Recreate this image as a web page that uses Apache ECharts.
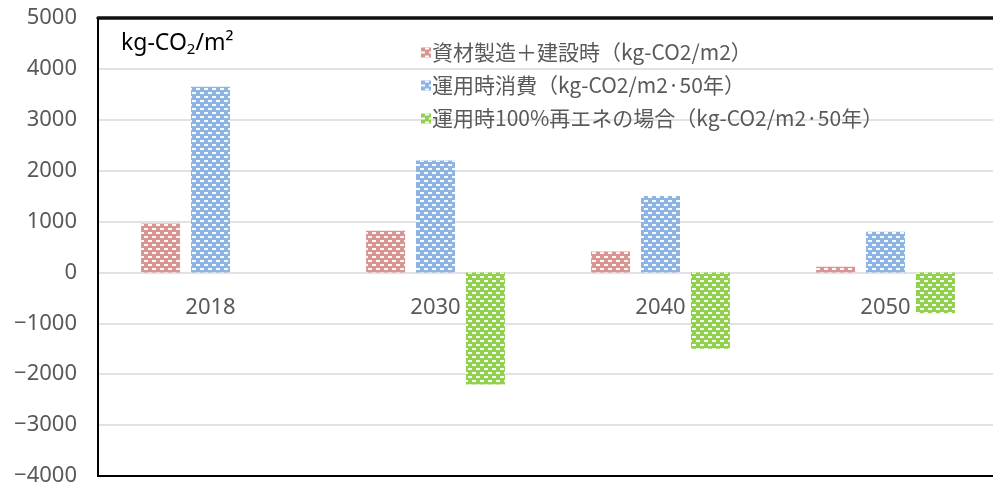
<!DOCTYPE html>
<html>
<head>
<meta charset="utf-8">
<script src="https://cdn.jsdelivr.net/npm/echarts@6/dist/echarts.min.js"></script>
<style>html,body{margin:0;padding:0;background:#fff;}#c{width:993px;height:483px;}</style>
</head>
<body>
<div id="c"></div>
<script>
const categories = ['2018', '2030', '2040', '2050'];
const seriesNames = ['資材製造＋建設時（kg-CO2/m2）', '運用時消費（kg-CO2/m2·50年）', '運用時100%再エネの場合（kg-CO2/m2·50年）'];
const materialConstruction = [960, 820, 410, 110];
const operation = [3650, 2200, 1500, 800];
const operationRenewable = [null, -2200, -1500, -800];
const yTicks = { min: -4000, max: 5000, interval: 1000 };

const colors = ['#D99594', '#8EB4E3', '#92D050'];
const decal = {
  symbol: 'rect',
  symbolSize: 1,
  color: 'rgba(255,255,255,0.95)',
  dashArrayX: [[4, 4], [0, 4, 4, 0]],
  dashArrayY: [2, 2],
  rotation: 0
};

const gridTop = 18, gridHeight = 458;
// distance from grid bottom up to the zero line, derived from the axis range
const zeroOffset = gridHeight * (0 - yTicks.min) / (yTicks.max - yTicks.min);

const chart = echarts.init(document.getElementById('c'));
const seriesData = [materialConstruction, operation, operationRenewable];
chart.setOption({
  animation: false,
  backgroundColor: '#fff',
  title: {
    text: 'kg-CO{sub|2}/m²',
    left: 116,
    top: 25,
    textStyle: {
      fontFamily: 'Noto Sans',
      fontSize: 23,
      fontWeight: 'normal',
      color: '#000',
      rich: {
        sub: { fontSize: 15, fontFamily: 'Noto Sans', color: '#000', verticalAlign: 'bottom', padding: [12, 0, 0, 0] }
      }
    }
  },
  legend: {
    orient: 'vertical',
    left: 416,
    top: 37,
    itemWidth: 10,
    itemHeight: 10,
    itemGap: 12,
    icon: 'rect',
    textStyle: { fontFamily: 'Noto Sans CJK JP', fontSize: 21, color: '#595959', padding: [0, 0, 0, -4] },
    data: seriesNames
  },
  grid: {
    left: 98,
    top: gridTop,
    width: 900,
    height: gridHeight,
    show: true,
    borderColor: '#000',
    borderWidth: 2,
    containLabel: false,
    outerBoundsMode: 'none'
  },
  xAxis: [{
    type: 'category',
    data: categories,
    offset: -zeroOffset,
    axisLine: { show: false, onZero: false },
    axisTick: { show: false },
    axisLabel: { fontFamily: 'Noto Sans', fontSize: 22, color: '#595959', margin: 24 },
    splitLine: { show: false }
  }, {
    type: 'category',
    data: categories,
    position: 'top',
    z: 10,
    axisLine: { show: true, onZero: false, lineStyle: { color: '#111', width: 3.5 } },
    axisTick: { show: false },
    axisLabel: { show: false },
    splitLine: { show: false }
  }],
  yAxis: {
    type: 'value',
    min: yTicks.min,
    max: yTicks.max,
    interval: yTicks.interval,
    axisLine: { show: true, lineStyle: { color: '#000', width: 2 } },
    axisTick: { show: false },
    axisLabel: {
      fontFamily: 'Noto Sans',
      fontSize: 22,
      color: '#595959',
      margin: 21,
      formatter: v => String(v).replace('-', '−')
    },
    splitLine: { showMinLine: false, showMaxLine: false, lineStyle: { color: '#D9D9D9', width: 1.5 } }
  },
  series: seriesNames.map((name, i) => ({
    name,
    type: 'bar',
    data: seriesData[i],
    barWidth: 39,
    barGap: '28%',
    itemStyle: { color: colors[i], decal }
  }))
});
</script>
</body>
</html>
